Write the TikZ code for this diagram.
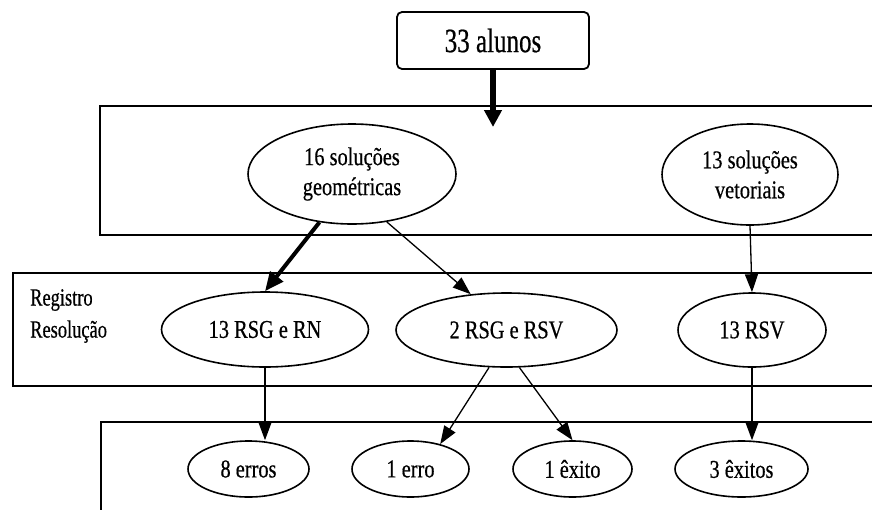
\documentclass[tikz,border=0pt]{standalone}
\usepackage{fontspec}
\setmainfont{Liberation Serif}[FakeBold=0.6]
\usepackage{graphicx}
\usetikzlibrary{shapes.geometric,arrows.meta}
\newcommand\vs[1]{\scalebox{0.97}[1.22]{#1}}
\newcommand\vsl[1]{\scalebox{0.97}[1.3]{#1}}
\newcommand\vsb[1]{\scalebox{1}[1.36]{#1}}
\begin{document}
\begin{tikzpicture}[x=1pt,y=-1pt,
  band/.style={draw,line width=1.8pt,inner sep=0pt,rectangle},
  oval/.style={ellipse,draw,line width=1.6pt,inner sep=0pt,align=center,
    font=\fontsize{21}{30}\selectfont},
  conn/.style={line width=1.3pt,-{Triangle[length=18pt,width=13pt]}},
  bigconn/.style={line width=4pt,-{Triangle[length=19pt,width=16pt]}},
  topconn/.style={line width=6.5pt,-{Triangle[length=17pt,width=17pt]}},
]
\useasboundingbox (0,0) rectangle (872,509);
\clip (0,0) rectangle (872,509);

% panels
\node[band, minimum width=790pt, minimum height=129pt] (p1) at (495,170.5) {};
\node[band, minimum width=877pt, minimum height=113pt] (p2) at (451.5,329.5) {};
\node[band, minimum width=789pt, minimum height=110pt] (p3) at (495.5,477) {};

% top box
\node[draw, rounded corners=5pt, line width=1.8pt, minimum width=192pt,
  minimum height=57pt, inner sep=0pt, font=\fontsize{25}{30}\selectfont]
  (top) at (493,40.5) {\vsb{33 alunos}};

% row 1
\node[oval, minimum width=208pt, minimum height=100pt] (e1) at (352,174)
  {\vs{16 soluções}\\\vs{geométricas}};
\node[oval, minimum width=176pt, minimum height=101pt] (e2) at (750,174.5)
  {\vs{13 soluções}\\\vs{vetoriais}};

% row 2
\node[anchor=west, align=left, inner sep=0pt, font=\fontsize{19}{32}\selectfont]
  (lab) at (30,316) {\vsl{Registro}\\\vsl{Resolução}};
\node[oval, minimum width=207pt, minimum height=75pt] (r1) at (265,329.5) {\vs{13 RSG e RN}};
\node[oval, minimum width=221pt, minimum height=74pt] (r2) at (506.5,330) {\vs{2 RSG e RSV}};
\node[oval, minimum width=148pt, minimum height=74pt] (r3) at (752,330) {\vs{13 RSV}};

% row 3
\node[oval, minimum width=121pt, minimum height=56pt] (b1) at (248.5,469) {\vs{8 erros}};
\node[oval, minimum width=117pt, minimum height=56pt] (b2) at (410.5,469) {\vs{1 erro}};
\node[oval, minimum width=119pt, minimum height=56pt] (b3) at (572.5,469) {\vs{1 êxito}};
\node[oval, minimum width=133pt, minimum height=56pt] (b4) at (741.5,469) {\vs{3 êxitos}};

% connectors
\coordinate (t1) at (493,127);
\draw[topconn] (top.south) -- (t1);
\draw[bigconn] (e1.236) -- (r1.north);
\draw[conn] (e1.306) -- (r2.135);
\draw[conn] (e2.south) -- (r3.north);
\draw[conn] (r1.south) -- (r1.south |- b1.north);
\draw[conn] (r2.245) -- (b2.40);
\draw[conn] (r2.289) -- (b3.north);
\draw[conn] (r3.south) -- (r3.south |- b4.north);
\end{tikzpicture}
\end{document}
